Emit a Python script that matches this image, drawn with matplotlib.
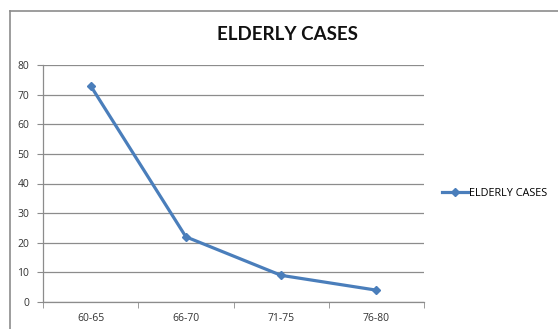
import matplotlib
matplotlib.use("Agg")
import matplotlib.pyplot as plt
from matplotlib.lines import Line2D

categories = ["60-65", "66-70", "71-75", "76-80"]
cases = [73, 22, 9, 4]
series_name = "ELDERLY CASES"
y_ticks = [0, 10, 20, 30, 40, 50, 60, 70, 80]

W, H = 558, 329
fig = plt.figure(figsize=(W / 100, H / 100), dpi=100)
fig.patch.set_facecolor("white")

# chart frame (left and top edges)
fx, fy = 10 / W, 1 - 11 / H
fig.add_artist(Line2D([fx, fx], [0, fy], color="#8c8c8c", lw=1.2, transform=fig.transFigure))
fig.add_artist(Line2D([fx, 1], [fy, fy], color="#8c8c8c", lw=1.2, transform=fig.transFigure))

left, right, bottom, top = 43 / W, 424 / W, 1 - 302 / H, 1 - 65 / H
ax = fig.add_axes([left, bottom, right - left, top - bottom])

x = list(range(len(categories)))
line_color = "#4A7EBB"
ax.plot(x, cases, color=line_color, lw=2.3, marker="D", markersize=4.5,
        markerfacecolor=line_color, markeredgecolor=line_color, label=series_name, zorder=3)

ax.set_xlim(-0.5, len(categories) - 0.5)
ax.set_ylim(0, 80)
ax.set_yticks(y_ticks)
ax.yaxis.grid(True, color="#8c8c8c", lw=0.9)
ax.set_axisbelow(True)

# category labels centred, tick marks at category boundaries
ax.set_xticks(x)
ax.set_xticklabels(categories, fontsize=7.5, family="Open Sans", color="#333333")
ax.tick_params(axis="x", which="major", length=0, pad=8)
ax.set_xticks([i - 0.5 for i in range(len(categories) + 1)], minor=True)
ax.tick_params(axis="x", which="minor", length=4, color="#8c8c8c", direction="out")
ax.tick_params(axis="y", length=4, color="#8c8c8c", direction="out", pad=6)
for lbl in ax.get_yticklabels():
    lbl.set_fontsize(7.5)
    lbl.set_family("Open Sans")
    lbl.set_color("#333333")

for s in ["top", "right"]:
    ax.spines[s].set_visible(False)
for s in ["left", "bottom"]:
    ax.spines[s].set_color("#8c8c8c")
    ax.spines[s].set_linewidth(0.9)

fig.text(287 / W, 1 - 35 / H, series_name, ha="center", va="center",
         fontsize=13.5, fontweight="bold", family="Lato", color="#111111")

leg = fig.legend(loc="center left", bbox_to_anchor=(442 / W, 1 - 193 / H), frameon=False,
                 prop={"family": "Open Sans", "size": 7.8}, handlelength=2.4,
                 handletextpad=0.05, borderaxespad=0, borderpad=0)

fig.savefig("out.png", dpi=100, facecolor="white")
